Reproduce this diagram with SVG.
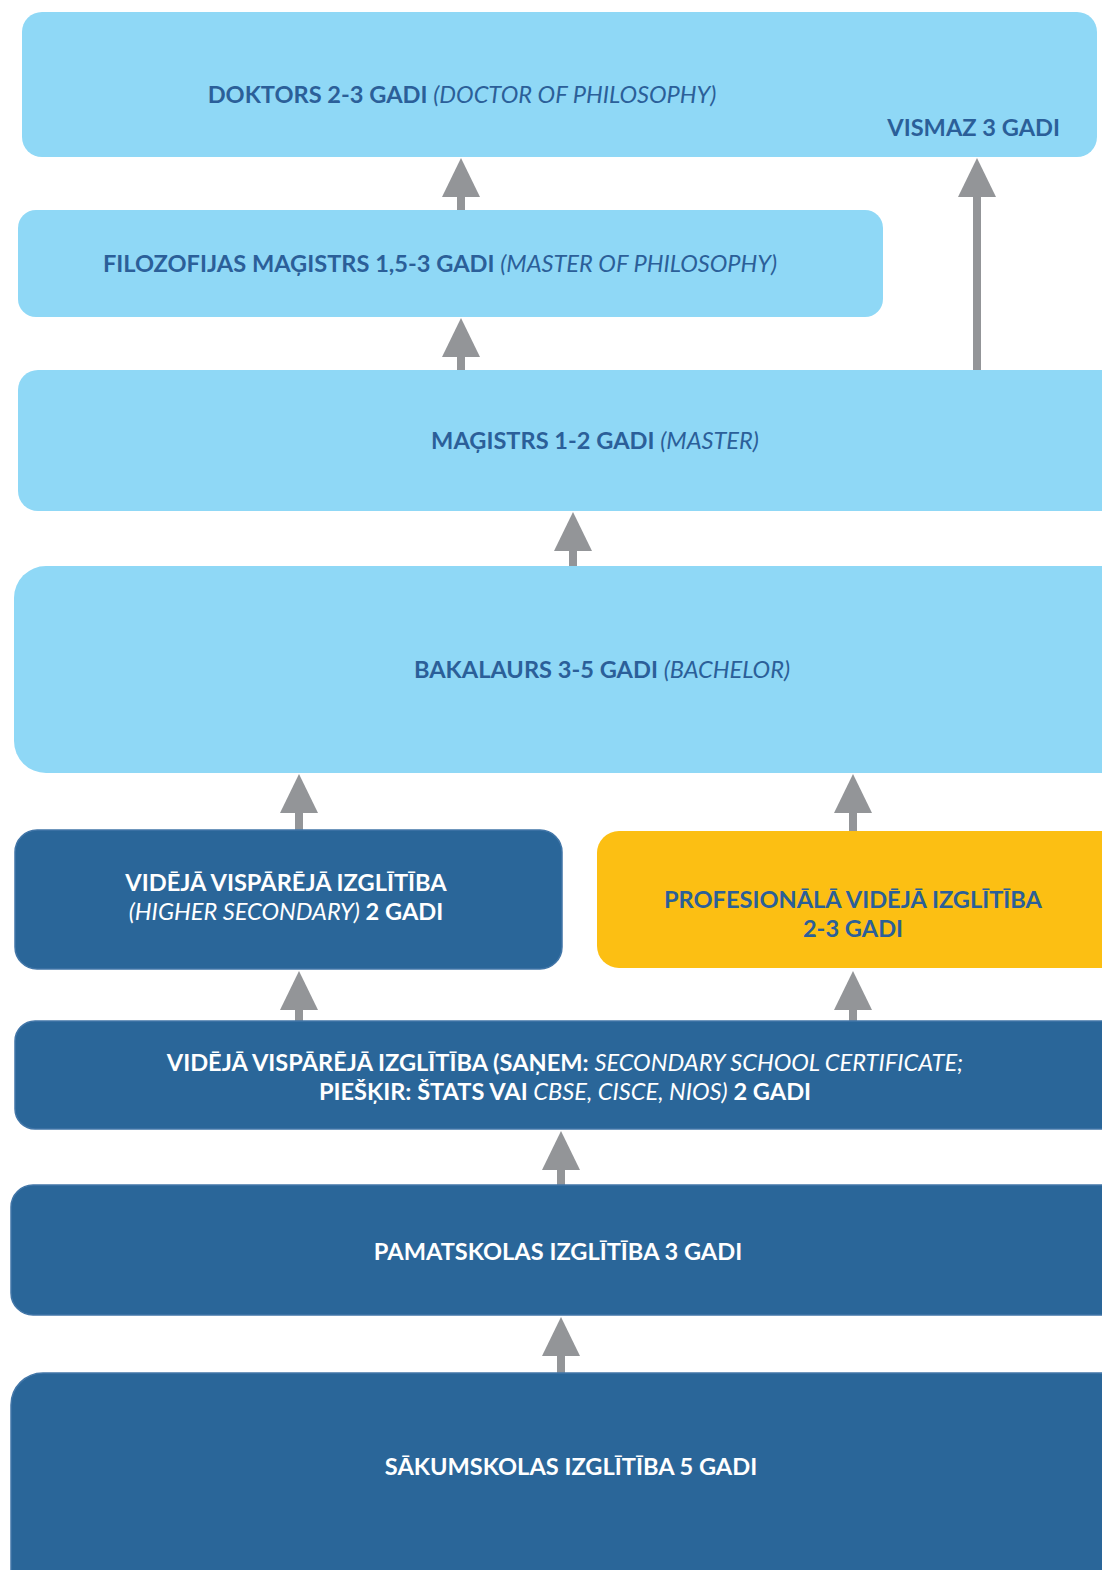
<svg xmlns="http://www.w3.org/2000/svg" width="1102" height="1570" viewBox="0 0 1102 1570">
<defs>
<style>
.light{fill:#8fd8f6;}
.dark{fill:#2a6699;stroke:#4276a8;stroke-width:1.5;}
.yellow{fill:#fcbf13;}
text{font-family:Lato,"Open Sans","Liberation Sans",sans-serif;font-size:23.6px;font-weight:bold;text-anchor:middle;}
.tb{fill:#2b5f99;}
.tw{fill:#ffffff;}
.it{font-style:italic;font-weight:normal;}
.arrow{fill:#939598;}
</style>
<g id="arrowhead"><polygon points="-19,39 0,0 19,39" class="arrow"/></g>
</defs>
<rect width="1102" height="1570" fill="#ffffff"/>
<g id="connectors">
  <g><use href="#arrowhead" x="461" y="158"/><rect x="457" y="196" width="8" height="15" class="arrow"/></g>
  <g><use href="#arrowhead" x="977" y="158"/><rect x="973" y="196" width="8" height="175" class="arrow"/></g>
  <g><use href="#arrowhead" x="461" y="318"/><rect x="457" y="356" width="8" height="15" class="arrow"/></g>
  <g><use href="#arrowhead" x="573" y="512"/><rect x="569" y="550" width="8" height="17" class="arrow"/></g>
  <g><use href="#arrowhead" x="299" y="774"/><rect x="295" y="812" width="8" height="19" class="arrow"/></g>
  <g><use href="#arrowhead" x="853" y="774"/><rect x="849" y="812" width="8" height="20" class="arrow"/></g>
  <g><use href="#arrowhead" x="299" y="971"/><rect x="295" y="1009" width="8" height="13" class="arrow"/></g>
  <g><use href="#arrowhead" x="853" y="971"/><rect x="849" y="1009" width="8" height="13" class="arrow"/></g>
  <g><use href="#arrowhead" x="561" y="1131"/><rect x="557" y="1169" width="8" height="17" class="arrow"/></g>
  <g><use href="#arrowhead" x="561" y="1317"/><rect x="557" y="1355" width="8" height="19" class="arrow"/></g>
</g>
<g id="doktors">
  <rect x="22" y="12" width="1075" height="145" rx="20" class="light"/>
  <text x="462" y="103" class="tb">DOKTORS 2-3 GADI <tspan class="it">(DOCTOR OF PHILOSOPHY)</tspan></text>
  <text x="1060" y="136" class="tb" style="text-anchor:end">VISMAZ 3 GADI</text>
</g>
<g id="filozofijas">
  <rect x="18" y="210" width="865" height="107" rx="18" class="light"/>
  <text x="440" y="272" class="tb">FILOZOFIJAS MAĢISTRS 1,5-3 GADI <tspan class="it">(MASTER OF PHILOSOPHY)</tspan></text>
</g>
<g id="magistrs">
  <rect x="18" y="370" width="1110" height="141" rx="20" class="light"/>
  <text x="595" y="449" class="tb">MAĢISTRS 1-2 GADI <tspan class="it">(MASTER)</tspan></text>
</g>
<g id="bakalaurs">
  <rect x="14" y="566" width="1120" height="207" rx="32" class="light"/>
  <text x="602" y="678" class="tb">BAKALAURS 3-5 GADI <tspan class="it">(BACHELOR)</tspan></text>
</g>
<g id="videja-visparejaa">
  <rect x="15" y="830" width="547" height="139" rx="22" class="dark"/>
  <text x="286" y="891" class="tw">VIDĒJĀ VISPĀRĒJĀ IZGLĪTĪBA</text>
  <text x="286" y="920" class="tw"><tspan class="it">(HIGHER SECONDARY)</tspan> 2 GADI</text>
</g>
<g id="profesionala">
  <rect x="597" y="831" width="530" height="137" rx="22" class="yellow"/>
  <text x="853" y="908" class="tb">PROFESIONĀLĀ VIDĒJĀ IZGLĪTĪBA</text>
  <text x="853" y="937" class="tb">2-3 GADI</text>
</g>
<g id="videja-visparejab">
  <rect x="15" y="1021" width="1115" height="108" rx="20" class="dark"/>
  <text x="565" y="1071" class="tw">VIDĒJĀ VISPĀRĒJĀ IZGLĪTĪBA (SAŅEM: <tspan class="it">SECONDARY SCHOOL CERTIFICATE;</tspan></text>
  <text x="565" y="1100" class="tw">PIEŠĶIR: ŠTATS VAI <tspan class="it">CBSE, CISCE, NIOS)</tspan> 2 GADI</text>
</g>
<g id="pamatskolas">
  <rect x="11" y="1185" width="1120" height="130" rx="22" class="dark"/>
  <text x="558" y="1260" class="tw">PAMATSKOLAS IZGLĪTĪBA 3 GADI</text>
</g>
<g id="sakumskolas">
  <rect x="11" y="1373" width="1120" height="230" rx="32" class="dark"/>
  <text x="571" y="1475" class="tw">SĀKUMSKOLAS IZGLĪTĪBA 5 GADI</text>
</g>
</svg>
